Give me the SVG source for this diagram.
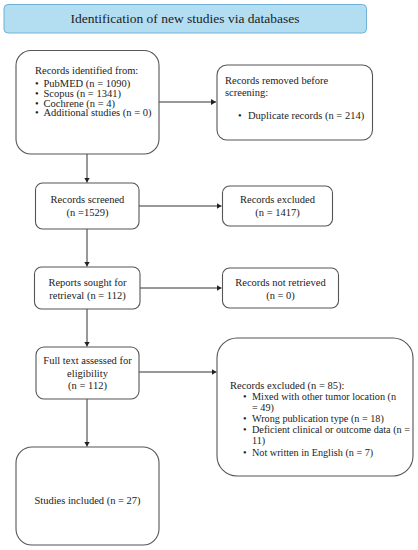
<svg xmlns="http://www.w3.org/2000/svg" width="418" height="550" viewBox="0 0 418 550">
<style>
.box{fill:#fff;stroke:#555;stroke-width:1.1}
.t{font-family:'Liberation Serif','DejaVu Serif',serif;font-size:10.5px;fill:#222}
.s{font-size:10.2px}
.c{text-anchor:middle}
.ln{stroke:#333;stroke-width:1;fill:none}
</style>
<defs>
<marker id="ah" markerWidth="6" markerHeight="6" refX="5" refY="3" orient="auto" markerUnits="userSpaceOnUse">
<path d="M0,0 L5,3 L0,6 Z" fill="#222"/>
</marker>
</defs>
<g id="title">
<rect x="4" y="4.5" width="362.5" height="28.5" rx="4" fill="#b3def2" stroke="#6fb2d6" stroke-width="1"/>
<text x="185" y="23" class="t c" style="font-size:13.5px">Identification of new studies via databases</text>
</g>
<g id="connectors">
<line class="ln" x1="159" y1="102" x2="216" y2="102" marker-end="url(#ah)"/>
<line class="ln" x1="87" y1="154" x2="87" y2="182.5" marker-end="url(#ah)"/>
<line class="ln" x1="139" y1="206" x2="221.5" y2="206" marker-end="url(#ah)"/>
<line class="ln" x1="87" y1="229" x2="87" y2="266.5" marker-end="url(#ah)"/>
<line class="ln" x1="140" y1="288" x2="221.5" y2="288" marker-end="url(#ah)"/>
<line class="ln" x1="87" y1="309" x2="87" y2="346.5" marker-end="url(#ah)"/>
<line class="ln" x1="139" y1="372" x2="216.5" y2="372" marker-end="url(#ah)"/>
<line class="ln" x1="87" y1="399" x2="87" y2="446.5" marker-end="url(#ah)"/>
</g>
<g id="identified">
<rect class="box" x="16" y="50.5" width="143" height="103.5" rx="15"/>
<text class="t" x="35" y="74">Records identified from:</text>
<text class="t" x="35" y="87">•</text><text class="t" x="43.5" y="87">PubMED (n = 1090)</text>
<text class="t" x="35" y="97">•</text><text class="t" x="43.5" y="97">Scopus (n = 1341)</text>
<text class="t" x="35" y="106.5">•</text><text class="t" x="43.5" y="106.5">Cochrene (n = 4)</text>
<text class="t" x="35" y="116">•</text><text class="t" x="43.5" y="116">Additional studies (n = 0)</text>
</g>
<g id="removed">
<rect class="box" x="217" y="65" width="155.5" height="75" rx="10"/>
<text class="t" x="225" y="84">Records removed before</text>
<text class="t" x="225" y="96">screening:</text>
<text class="t" x="238" y="119">•</text><text class="t" x="248" y="119">Duplicate records (n = 214)</text>
</g>
<g id="screened">
<rect class="box" x="35.5" y="183" width="103.5" height="46" rx="7"/>
<text class="t c" x="87.5" y="203">Records screened</text>
<text class="t c" x="87.5" y="216">(n =1529)</text>
</g>
<g id="excluded1">
<rect class="box" x="222.5" y="186" width="110" height="40" rx="7"/>
<text class="t c" x="277.5" y="203">Records excluded</text>
<text class="t c" x="277.5" y="216">(n = 1417)</text>
</g>
<g id="sought">
<rect class="box" x="34.5" y="267" width="105.5" height="42" rx="7"/>
<text class="t c" x="87.5" y="286">Reports sought for</text>
<text class="t c" x="87.5" y="299">retrieval (n = 112)</text>
</g>
<g id="notretrieved">
<rect class="box" x="222.5" y="268" width="116" height="40" rx="7"/>
<text class="t c" x="280.5" y="286">Records not retrieved</text>
<text class="t c" x="280.5" y="299">(n = 0)</text>
</g>
<g id="fulltext">
<rect class="box" x="36" y="347" width="103" height="52" rx="8"/>
<text class="t c" x="87.5" y="364">Full text assessed for</text>
<text class="t c" x="87.5" y="376.5">eligibility</text>
<text class="t c" x="87.5" y="389">(n = 112)</text>
</g>
<g id="excluded2">
<rect class="box" x="217" y="338" width="196" height="138" rx="20"/>
<text class="t" x="230" y="389">Records excluded (n = 85):</text>
<text class="t s" x="243" y="399.5">•</text><text class="t s" x="252" y="399.5">Mixed with other tumor location (n</text>
<text class="t s" x="252" y="410.5">= 49)</text>
<text class="t s" x="243" y="421.5">•</text><text class="t s" x="252" y="421.5">Wrong publication type (n = 18)</text>
<text class="t s" x="243" y="432.5">•</text><text class="t s" x="252" y="432.5">Deficient clinical or outcome data (n =</text>
<text class="t s" x="252" y="444">11)</text>
<text class="t s" x="243" y="456">•</text><text class="t s" x="252" y="456">Not written in English (n = 7)</text>
</g>
<g id="included">
<rect class="box" x="16" y="447" width="143" height="98" rx="16"/>
<text class="t c" x="87.5" y="504">Studies included (n = 27)</text>
</g>
</svg>
